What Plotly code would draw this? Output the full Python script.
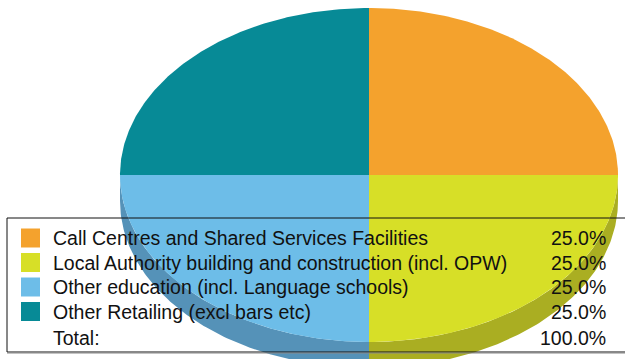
import numpy as np
import plotly.graph_objects as go

# data
labels = [
    "Call Centres and Shared Services Facilities",
    "Local Authority building and construction (incl. OPW)",
    "Other education (incl. Language schools)",
    "Other Retailing (excl bars etc)",
]
values = [25, 25, 25, 25]
colors = ["#F4A22D", "#D7DF27", "#6DBDE8", "#078A96"]
side_colors = ["#C4822A", "#AAAE22", "#5592B8", "#066E78"]
total_label = "Total:"

W, H = 625, 359
cx, cy, rx, ry, depth = 369, 175, 249, 167, 26
FONT = "Liberation Sans, Arial, sans-serif"


def ell(t):
    # t in degrees, clockwise from 12 o'clock, screen coords (y down)
    r = np.radians(t)
    return cx + rx * np.sin(r), cy - ry * np.cos(r)


total = float(sum(values))
bounds = np.concatenate([[0], np.cumsum(values)]) / total * 360.0

fig = go.Figure()

# sides of the 3d pie (front half only)
for i in range(len(values)):
    a, b = max(bounds[i], 90.0), min(bounds[i + 1], 270.0)
    if b <= a:
        continue
    t = np.linspace(a, b, 120)
    x, y = ell(t)
    xs = np.concatenate([x, x[::-1]])
    ys = np.concatenate([y, (y + depth)[::-1]])
    fig.add_trace(go.Scatter(x=xs, y=ys, fill="toself", mode="lines",
                             line=dict(width=0), fillcolor=side_colors[i],
                             hoverinfo="skip", showlegend=False))

# top faces
for i in range(len(values)):
    t = np.linspace(bounds[i], bounds[i + 1], 160)
    x, y = ell(t)
    xs = np.concatenate([[cx], x, [cx]])
    ys = np.concatenate([[cy], y, [cy]])
    fig.add_trace(go.Scatter(x=xs, y=ys, fill="toself", mode="lines",
                             line=dict(width=0), fillcolor=colors[i],
                             name=labels[i], text=labels[i],
                             hovertemplate="%{text}<extra></extra>",
                             showlegend=False))

# legend table
row0, step = 238, 24.5
rows_y = [row0 + step * i for i in range(len(values))]
fig.add_trace(go.Scatter(
    x=[30.5] * len(values), y=rows_y, mode="markers",
    marker=dict(symbol="square", size=19, color=colors, line=dict(width=0)),
    hoverinfo="skip", showlegend=False,
))

for i, lab in enumerate(labels):
    fig.add_annotation(x=51, y=rows_y[i], text=lab, showarrow=False,
                       xanchor="left", yanchor="middle",
                       font=dict(family=FONT, size=19.5, color="#111111"))
    fig.add_annotation(x=608, y=rows_y[i], text=f"{values[i] / total * 100:.1f}%",
                       showarrow=False, xanchor="right", yanchor="middle",
                       font=dict(family=FONT, size=19.5, color="#111111"))

total_y = rows_y[-1] + 26.5
fig.add_annotation(x=51, y=total_y, text=total_label, showarrow=False,
                   xanchor="left", yanchor="middle",
                   font=dict(family=FONT, size=19.5, color="#111111"))
fig.add_annotation(x=608, y=total_y, text=f"{sum(values) / total * 100:.1f}%",
                   showarrow=False, xanchor="right", yanchor="middle",
                   font=dict(family=FONT, size=19.5, color="#111111"))

fig.add_shape(type="rect", x0=7, y0=218, x1=640, y1=352,
              line=dict(color="#111111", width=1))
fig.add_shape(type="line", x0=7, y0=353, x1=640, y1=353,
              line=dict(color="#888888", width=1))

fig.update_layout(
    width=W, height=H, autosize=False,
    margin=dict(l=0, r=0, t=0, b=0),
    paper_bgcolor="white", plot_bgcolor="white",
    xaxis=dict(range=[0, W], visible=False, fixedrange=True),
    yaxis=dict(range=[H, 0], visible=False, fixedrange=True),
)

fig.write_html("out.html", config={"displayModeBar": False},
               post_script="document.body.style.margin='0';document.body.style.overflow='hidden';")
